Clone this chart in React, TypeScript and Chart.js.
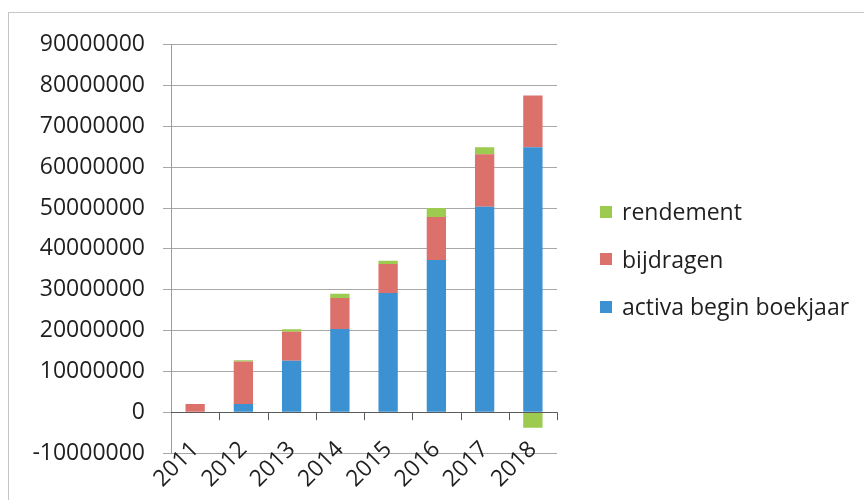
import React, { useEffect, useRef } from "react";
import { Chart, registerables } from "chart.js";

Chart.register(...registerables);

const categories = ["2011", "2012", "2013", "2014", "2015", "2016", "2017", "2018"];
const activaBeginBoekjaar = [0, 2000000, 12600000, 20400000, 29200000, 37300000, 50300000, 64900000];
const bijdragen = [2000000, 10400000, 7100000, 7600000, 7100000, 10500000, 12900000, 12700000];
const rendement = [0, 300000, 600000, 1000000, 800000, 2200000, 1700000, -3800000];
const yTicks = [-10000000, 0, 10000000, 20000000, 30000000, 40000000, 50000000, 60000000, 70000000, 80000000, 90000000];

const seriesNames = ["activa begin boekjaar", "bijdragen", "rendement"];
const seriesColors = ["#3b91d1", "#dc706b", "#9ccb50"];
const legendOrder = [2, 1, 0];

const FONT = "'Open Sans', 'Noto Sans', sans-serif";
const TEXT = "#1f1f1f";

const zeroTicks = {
  id: "zeroTicks",
  afterDatasetsDraw(chart: any) {
    const x = chart.scales.x;
    const y = chart.scales.y;
    const ctx = chart.ctx;
    const y0 = y.getPixelForValue(0);
    const half = (x.getPixelForValue(1) - x.getPixelForValue(0)) / 2;
    ctx.save();
    ctx.strokeStyle = "#5a5a5a";
    ctx.lineWidth = 1;
    ctx.beginPath();
    for (let i = 0; i < categories.length; i++) {
      const px = Math.round(x.getPixelForValue(i) + half) + 0.5;
      ctx.moveTo(px, y0);
      ctx.lineTo(px, y0 + 8);
    }
    ctx.moveTo(chart.chartArea.left, Math.round(y0) + 0.5);
    ctx.lineTo(chart.chartArea.right, Math.round(y0) + 0.5);
    ctx.stroke();
    ctx.restore();
  },
};

export default function App() {
  const ref = useRef<HTMLCanvasElement | null>(null);
  useEffect(() => {
    if (!ref.current) return;
    const data = [activaBeginBoekjaar, bijdragen, rendement];
    const chart = new Chart(ref.current, {
      type: "bar",
      data: {
        labels: categories,
        datasets: data.map((d, i) => ({
          label: seriesNames[i],
          data: d,
          backgroundColor: seriesColors[i],
          borderWidth: 0,
          barPercentage: 0.4,
          categoryPercentage: 1,
        })),
      },
      plugins: [zeroTicks],
      options: {
        animation: false,
        responsive: false,
        devicePixelRatio: 1,
        layout: { padding: { top: 11, right: 307, bottom: 47, left: 0 } },
        plugins: {
          tooltip: { enabled: false },
          legend: { display: false },
        },
        scales: {
          x: {
            stacked: true,
            position: { y: 0 } as any,
            grid: { display: false },
            border: { display: false },
            ticks: {
              color: TEXT,
              font: { family: FONT, size: 23 },
              minRotation: 45,
              maxRotation: 45,
              padding: 16,
            },
          },
          y: {
            stacked: true,
            min: -10000000,
            max: 90000000,
            afterFit: (s: any) => {
              s.width = 162;
            },
            afterBuildTicks: (s: any) => {
              s.ticks = yTicks.map((v) => ({ value: v }));
            },
            grid: {
              color: "#a8a8a8",
              tickLength: 8,
              tickColor: "#a8a8a8",
            },
            border: { display: true, color: "#9a9a9a" },
            ticks: {
              color: TEXT,
              font: { family: FONT, size: 23 },
              padding: 18,
              callback: (v: any) => String(v),
            },
          },
        },
      },
    });
    return () => chart.destroy();
  }, []);
  return (
    <div
      style={{
        position: "absolute",
        left: 8,
        top: 12,
        width: 856,
        height: 488,
        boxSizing: "border-box",
        borderTop: "1px solid #c6c6c6",
        borderLeft: "1px solid #c6c6c6",
        background: "#fff",
      }}
    >
      <canvas ref={ref} width={855} height={487} style={{ display: "block" }} />
      <div
        style={{
          position: "absolute",
          left: 591,
          top: 175,
          fontFamily: FONT,
          fontSize: 23,
          color: TEXT,
          lineHeight: "47.5px",
          whiteSpace: "nowrap",
        }}
      >
        {legendOrder.map((i) => (
          <div key={seriesNames[i]} style={{ display: "flex", alignItems: "center", height: 47.5 }}>
            <span
              style={{
                display: "inline-block",
                width: 12,
                height: 12,
                background: seriesColors[i],
                marginRight: 10,
              }}
            />
            <span>{seriesNames[i]}</span>
          </div>
        ))}
      </div>
    </div>
  );
}
